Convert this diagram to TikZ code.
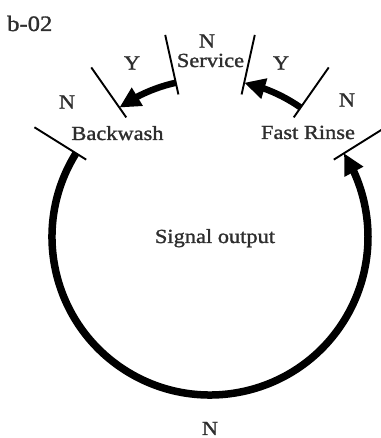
\documentclass[tikz,border=0pt]{standalone}
\usepackage{fontspec}
\setmainfont{Liberation Serif}
\newfontfamily\labfont[FakeStretch=1.12,FakeBold=1.3]{Liberation Serif}
\usetikzlibrary{arrows.meta,bending}
\begin{document}
\begin{tikzpicture}[x=1pt,y=1pt,
  tickline/.style={line width=1.9pt,black},
  flow/.style={line width=6.5pt,black,-{Triangle[length=21pt,width=20pt,flex]}},
  lab/.style={font=\labfont\fontsize{20}{20}\selectfont,text=black!82,inner sep=0pt}]
\useasboundingbox (0,0) rectangle (380,438);
\coordinate (O) at (210,201);
% ticks
\foreach \a/\n in {148/t1,125/t2,102.5/t3,77.5/t4,55/t5,32/t6}{
  \coordinate (\n i) at ([shift={(\a:146)}]O);
  \coordinate (\n o) at ([shift={(\a:207)}]O);
  \coordinate (\n) at ([shift={(\a:158)}]O);
  \draw[tickline] (\n i) -- (\n o);
}
% arcs
\draw[flow] (t3) arc[start angle=102.5,end angle=125,radius=158];
\draw[flow] (t5) arc[start angle=55,end angle=77.5,radius=158];
\draw[flow,line width=7.5pt] (t1) arc[start angle=148,end angle=392,radius=158];
% labels
\node[lab,anchor=base west,font=\labfont\fontsize{22}{22}\selectfont] (title) at (7,407) {b-02};
\node[lab] (y1) at (132,375) {Y};
\node[lab] (n1) at (67,336) {N};
\node[lab,anchor=base] (bw) at (117.5,298) {Backwash};
\node[lab] (n2) at (207,397) {N};
\node[lab,anchor=base] (sv) at (210.5,371) {Service};
\node[lab] (y2) at (281,375) {Y};
\node[lab] (n3) at (347,338) {N};
\node[lab,anchor=base] (fr) at (308,299) {Fast Rinse};
\node[lab,anchor=base] (so) at (215,195) {Signal output};
\node[lab,anchor=base] (n4) at (210,3) {N};
\end{tikzpicture}
\end{document}
